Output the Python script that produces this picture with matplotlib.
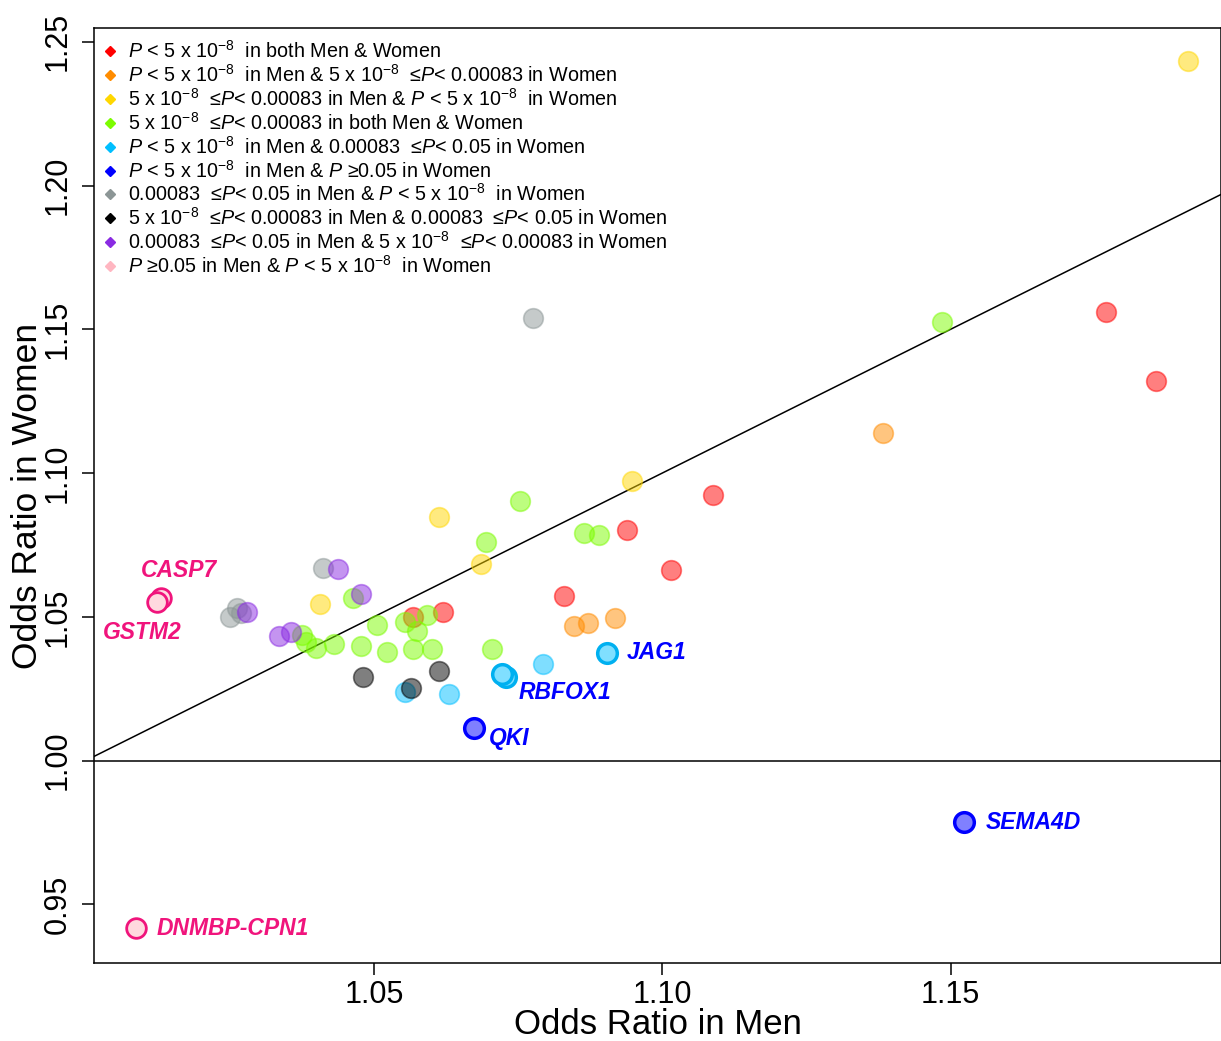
import matplotlib
matplotlib.use("Agg")
import matplotlib.pyplot as plt
from matplotlib.lines import Line2D

plt.rcParams['font.family'] = ['Liberation Sans', 'DejaVu Sans']
plt.rcParams['mathtext.fontset'] = 'custom'
plt.rcParams['mathtext.rm'] = 'Liberation Sans'
plt.rcParams['mathtext.it'] = 'Liberation Sans:italic'
plt.rcParams['mathtext.bf'] = 'Liberation Sans:bold'

# ---------------- data ----------------
red_x = [1.0567, 1.0619, 1.0830, 1.0939, 1.1015, 1.1088, 1.1770, 1.1857]
red_y = [1.0500, 1.0516, 1.0574, 1.0802, 1.0662, 1.0922, 1.1559, 1.1319]

orange_x = [1.0847, 1.0872, 1.0918, 1.1382]
orange_y = [1.0468, 1.0477, 1.0497, 1.1141]

yellow_x = [1.0406, 1.0613, 1.0686, 1.0947, 1.1912]
yellow_y = [1.0545, 1.0847, 1.0685, 1.0973, 1.2433]

green_x = [1.0464, 1.0375, 1.0382, 1.0399, 1.0431, 1.0505, 1.0477, 1.0523, 1.0554,
           1.0592, 1.0574, 1.0567, 1.0601, 1.0704, 1.0694, 1.0754, 1.0864, 1.0891, 1.1485]
green_y = [1.0564, 1.0436, 1.0412, 1.0393, 1.0407, 1.0471, 1.0398, 1.0379, 1.0482,
           1.0506, 1.0450, 1.0389, 1.0389, 1.0389, 1.0762, 1.0904, 1.0793, 1.0783, 1.1527]

cyan_x = [1.0554, 1.0631, 1.0794]
cyan_y = [1.0237, 1.0233, 1.0337]

gray_x = [1.0411, 1.0250, 1.0262, 1.0270, 1.0776]
gray_y = [1.0670, 1.0501, 1.0531, 1.0513, 1.1538]

black_x = [1.0481, 1.0613, 1.0565]
black_y = [1.0289, 1.0312, 1.0251]

purple_x = [1.0438, 1.0280, 1.0477, 1.0336, 1.0356]
purple_y = [1.0666, 1.0516, 1.0580, 1.0432, 1.0448]

# highlighted genes
cyan_gene_names = ["JAG1", "RBFOX1", ""]
cyan_gene_x = [1.0904, 1.0729, 1.0722]
cyan_gene_y = [1.0375, 1.0291, 1.0300]

blue_gene_names = ["QKI", "SEMA4D"]
blue_gene_x = [1.0673, 1.1523]
blue_gene_y = [1.0115, 0.9786]

pink_gene_names = ["CASP7", "GSTM2", "DNMBP-CPN1"]
pink_gene_x = [1.0131, 1.0124, 1.0087]
pink_gene_y = [1.0564, 1.0552, 0.9417]

legend_labels = [
    r"$P$ < 5 x 10$^{-8}$  in both Men & Women",
    r"$P$ < 5 x 10$^{-8}$  in Men & 5 x 10$^{-8}$  ≤$P$< 0.00083 in Women",
    r"5 x 10$^{-8}$  ≤$P$< 0.00083 in Men & $P$ < 5 x 10$^{-8}$  in Women",
    r"5 x 10$^{-8}$  ≤$P$< 0.00083 in both Men & Women",
    r"$P$ < 5 x 10$^{-8}$  in Men & 0.00083  ≤$P$< 0.05 in Women",
    r"$P$ < 5 x 10$^{-8}$  in Men & $P$ ≥0.05 in Women",
    r"0.00083  ≤$P$< 0.05 in Men & $P$ < 5 x 10$^{-8}$  in Women",
    r"5 x 10$^{-8}$  ≤$P$< 0.00083 in Men & 0.00083  ≤$P$< 0.05 in Women",
    r"0.00083  ≤$P$< 0.05 in Men & 5 x 10$^{-8}$  ≤$P$< 0.00083 in Women",
    r"$P$ ≥0.05 in Men & $P$ < 5 x 10$^{-8}$  in Women",
]
legend_colors = ["#FF0000", "#FF8C00", "#FFD700", "#7CFC00", "#00BFFF",
                 "#0000FF", "#8C9696", "#000000", "#8A2BE2", "#FFB6C1"]

x_ticks = [1.05, 1.10, 1.15]
y_ticks = [0.95, 1.00, 1.05, 1.10, 1.15, 1.20, 1.25]

# ---------------- figure ----------------
fig = plt.figure(figsize=(12.21, 10.41), dpi=100)
ax = fig.add_axes([94.3 / 1221, 1 - 963 / 1041, 1 - 94.3 / 1221, (963 - 28) / 1041])
ax.set_xlim(1.0015, 1.1969)
ax.set_ylim(0.9296, 1.2548)

ax.axhline(1.0, color='black', lw=1.1, zorder=1)
ax.axline((1.0, 1.0), slope=1, color='black', lw=1.1, zorder=1)

S = 200
A = 0.5
groups = [
    (red_x, red_y, "#FF0000"),
    (orange_x, orange_y, "#FF8C00"),
    (yellow_x, yellow_y, "#FFD700"),
    (green_x, green_y, "#7CFC00"),
    (cyan_x, cyan_y, "#00BFFF"),
    (gray_x, gray_y, "#8C9696"),
    (black_x, black_y, "#000000"),
    (purple_x, purple_y, "#8A2BE2"),
]
for gx, gy, c in groups:
    ax.scatter(gx, gy, s=S, color=c, alpha=A, edgecolors=c, linewidths=1.2, zorder=3)

# highlighted points
ax.scatter(cyan_gene_x, cyan_gene_y, s=S, facecolors="#80DFFF", edgecolors="#00B0F0",
           linewidths=2.5, zorder=4)
ax.scatter(blue_gene_x, blue_gene_y, s=S, facecolors="#8080FF", edgecolors="#0000FF",
           linewidths=2.5, zorder=4)
ax.scatter(pink_gene_x, pink_gene_y, s=S, facecolors="#FFD9DF", edgecolors="#F0147C",
           linewidths=2.0, zorder=4)

lab_kw = dict(fontsize=16.5, fontweight='bold', fontstyle='italic', textcoords='offset points')
offsets_cyan = [(14, 0), (9, -11), (0, 0)]
for name, x, y, off in zip(cyan_gene_names, cyan_gene_x, cyan_gene_y, offsets_cyan):
    if name:
        ax.annotate(name, (x, y), xytext=off, color="#0000FF", ha='left', va='center', **lab_kw)
offsets_blue = [(11, -8), (16, 0)]
for name, x, y, off in zip(blue_gene_names, blue_gene_x, blue_gene_y, offsets_blue):
    ax.annotate(name, (x, y), xytext=off, color="#0000FF", ha='left', va='center', **lab_kw)
pink_specs = [((13, 20), 'center'), ((-11, -22), 'center'), ((15, 0), 'left')]
for name, x, y, (off, ha) in zip(pink_gene_names, pink_gene_x, pink_gene_y, pink_specs):
    ax.annotate(name, (x, y), xytext=off, color="#F0147C", ha=ha, va='center', **lab_kw)

# axes styling
ax.set_xticks(x_ticks)
ax.set_xticklabels([f"{v:.2f}" for v in x_ticks])
ax.set_yticks(y_ticks)
ax.set_yticklabels([f"{v:.2f}" for v in y_ticks], rotation=90, va='center')
ax.tick_params(axis='both', length=8.5, width=1.1, labelsize=22, direction='out')
ax.tick_params(axis='x', pad=4)
ax.tick_params(axis='y', pad=7)
for sp in ax.spines.values():
    sp.set_linewidth(1.1)
ax.set_xlabel("Odds Ratio in Men", fontsize=25, labelpad=-2)
ax.set_ylabel("Odds Ratio in Women", fontsize=25.5, labelpad=-1)

handles = [Line2D([], [], marker='D', linestyle='none', markersize=5,
                  markerfacecolor=c, markeredgecolor=c) for c in legend_colors]
ax.legend(handles, legend_labels, loc='upper left', bbox_to_anchor=(0.0086, 0.987),
          frameon=False, fontsize=14.2, handlelength=0.6, handletextpad=0.6,
          labelspacing=0.1, borderpad=0, borderaxespad=0)

fig.savefig("out.png", dpi=100)
